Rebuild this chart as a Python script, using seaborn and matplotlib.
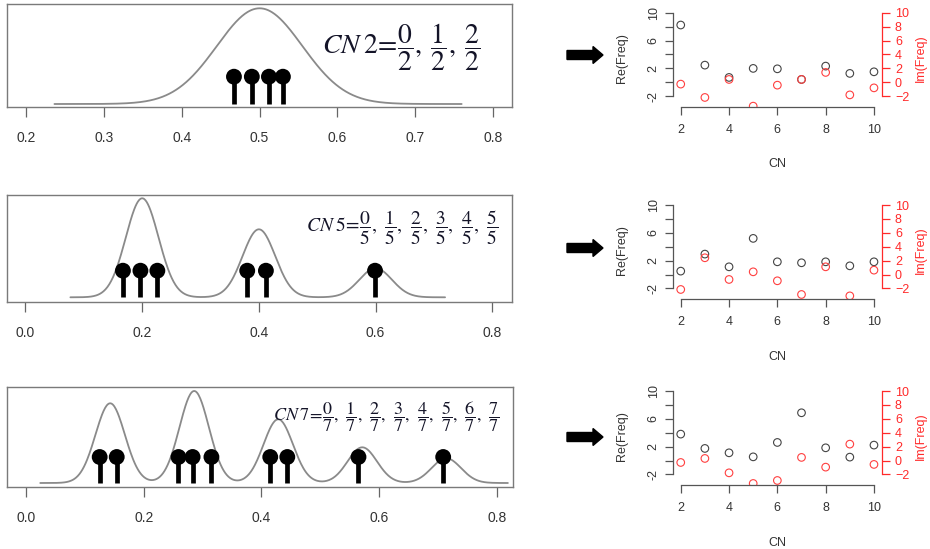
import numpy as np
import matplotlib
matplotlib.use("Agg")
import matplotlib.pyplot as plt
from matplotlib.patches import FancyArrow
import seaborn as sns

# ---------------- data ----------------
cn = [2, 3, 4, 5, 6, 7, 8, 9, 10]

# lollipop (observed allele fraction) positions
lolli_cn2 = [0.467, 0.490, 0.512, 0.530]
lolli_cn5 = [0.167, 0.197, 0.226, 0.380, 0.412, 0.599]
lolli_cn7 = [0.125, 0.154, 0.259, 0.283, 0.315, 0.415, 0.444, 0.565, 0.709]

# density peaks: centres and relative heights
peaks_cn2 = [0.5]
heights_cn2 = [95.7]
peaks_cn5 = [0.2, 0.4, 0.6]
heights_cn5 = [99.0, 68.0, 29.0]
peaks_cn7 = [1 / 7, 2 / 7, 3 / 7, 4 / 7, 5 / 7]
heights_cn7 = [79.7, 92.0, 63.7, 35.7, 24.7]

# frequency spectra (real / imaginary part) per CN
re_cn2 = [8.23, 2.46, 0.69, 1.99, 1.93, 0.40, 2.32, 1.27, 1.50]
im_cn2 = [-0.27, -2.19, 0.40, -3.44, -0.42, 0.40, 1.41, -1.82, -0.81]
re_cn5 = [0.49, 2.94, 1.11, 5.20, 1.83, 1.69, 1.83, 1.25, 1.83]
im_cn5 = [-2.15, 2.41, -0.71, 0.39, -0.90, -2.87, 1.11, -3.07, 0.63]
re_cn7 = [3.80, 1.74, 1.11, 0.53, 2.60, 6.87, 1.83, 0.49, 2.22]
im_cn7 = [-0.28, 0.30, -1.77, -3.30, -2.87, 0.45, -0.95, 2.36, -0.56]

ticks_cn2 = [0.2, 0.3, 0.4, 0.5, 0.6, 0.7, 0.8]
ticks_wide = [0.0, 0.2, 0.4, 0.6, 0.8]
cn_ticks = [2, 4, 6, 8, 10]
re_ticks = [-2, 0, 2, 4, 6, 8, 10]
re_ticklabels = ["-2", "", "2", "", "6", "", "10"]
im_ticks = [-2, 0, 2, 4, 6, 8, 10]


def cn_label(n, gap):
    fr = (r",\hspace{%.2f}" % gap).join(r"\dfrac{%d}{%d}" % (k, n) for k in range(n + 1))
    return r"$\mathit{CN}\hspace{0.22}%d\!=\!%s$" % (n, fr)


label_cn2 = cn_label(2, 0.25)
label_cn5 = cn_label(5, 0.40)
label_cn7 = cn_label(7, 0.42)

# ---------------- style ----------------
sns.set_style("white")
plt.rcParams["font.family"] = ["Liberation Sans", "DejaVu Sans"]
plt.rcParams["mathtext.fontset"] = "stix"

W, H = 930, 549
fig = plt.figure(figsize=(W / 100, H / 100), dpi=100)


def px_axes(x0, y0, x1, y1):
    return fig.add_axes([x0 / W, 1 - y1 / H, (x1 - x0) / W, (y1 - y0) / H])


def draw_left(box, xlim, ylim, xticks, peaks, heights, sd, span, lolli, head_y,
              label, text_xy, text_size):
    ax = px_axes(*box)
    xs = np.linspace(span[0], span[1], 600)
    dens = np.zeros_like(xs)
    for c, h in zip(peaks, heights):
        dens += h * np.exp(-0.5 * ((xs - c) / sd) ** 2)
    sns.lineplot(x=xs, y=dens, ax=ax, color="#8a8a8a", lw=1.3)
    ax.vlines(lolli, 0, head_y, color="black", lw=3.4, zorder=3)
    sns.scatterplot(x=lolli, y=[head_y] * len(lolli), ax=ax, s=130,
                    color="black", edgecolor="none", zorder=4)
    ax.set_xlim(*xlim)
    ax.set_ylim(*ylim)
    ax.set_xticks(xticks)
    ax.set_xticklabels([f"{t:.1f}" for t in xticks])
    ax.set_yticks([])
    for s in ax.spines.values():
        s.set_visible(True)
        s.set_color("#7a7a7a")
        s.set_linewidth(1.0)
    ax.tick_params(axis="x", direction="out", length=7.5, width=0.9,
                   color="#666666", labelsize=10, labelcolor="#333333", pad=10,
                   bottom=True)
    ax.set_xlabel("")
    ax.set_ylabel("")
    fig.text(text_xy[0] / W, 1 - text_xy[1] / H, label, ha="right", va="center",
             fontsize=text_size, color="#141428")
    return ax


def draw_right(y_top, y_bot, re_vals, im_vals):
    ax = px_axes(673, y_top, 881.7, y_bot)
    sns.scatterplot(x=cn, y=re_vals, ax=ax, s=30, color="#444444", zorder=3)
    c = ax.collections[-1]
    c.set_facecolor("none")
    c.set_edgecolor("#444444")
    c.set_linewidth(0.8)
    ax.set_xlim(1.68, 10.32)
    ax.set_ylim(-3.52, 10.52)
    ax.set_xticks(cn_ticks)
    ax.set_yticks(re_ticks)
    ax.set_yticklabels(re_ticklabels)
    for side in ["top", "right"]:
        ax.spines[side].set_visible(False)
    for side in ["left", "bottom"]:
        ax.spines[side].set_visible(True)
        ax.spines[side].set_color("#555555")
        ax.spines[side].set_linewidth(0.9)
    ax.spines["left"].set_bounds(-2, 10)
    ax.spines["bottom"].set_bounds(2, 10)
    ax.tick_params(axis="both", direction="out", length=5.5, width=0.9,
                   color="#555555", labelsize=9, labelcolor="#333333",
                   left=True, bottom=True)
    ax.tick_params(axis="y", labelrotation=90, pad=4)
    for t in ax.get_yticklabels():
        t.set_va("center")
    ax.tick_params(axis="x", pad=7)
    ax.set_xlabel("CN", fontsize=9, color="#333333", labelpad=16)
    ax.set_ylabel("Re(Freq)", fontsize=9, color="#333333", labelpad=14)

    ax2 = ax.twinx()
    sns.scatterplot(x=cn, y=im_vals, ax=ax2, s=30, color="#ff4040", zorder=3)
    c2 = ax2.collections[-1]
    c2.set_facecolor("none")
    c2.set_edgecolor("#ff4040")
    c2.set_linewidth(0.8)
    ax2.set_ylim(-3.52, 10.52)
    ax2.set_yticks(im_ticks)
    for side in ["top", "left", "bottom"]:
        ax2.spines[side].set_visible(False)
    ax2.spines["right"].set_visible(True)
    ax2.spines["right"].set_color("#ff2a2a")
    ax2.spines["right"].set_linewidth(0.9)
    ax2.spines["right"].set_bounds(-2, 10)
    ax2.tick_params(axis="y", direction="out", length=5.5, width=0.9,
                    color="#ff2a2a", labelsize=9, labelcolor="#ff2a2a",
                    right=True, pad=4)
    ax2.set_ylabel("Im(Freq)", fontsize=9, color="#ff2a2a", labelpad=4)
    ax2.set_xlabel("")
    return ax


def arrow(yc):
    a = FancyArrow(567 / W, 1 - yc / H, 36 / W, 0, width=9 / H,
                   head_width=17 / H, head_length=10 / W,
                   length_includes_head=True, color="black",
                   transform=fig.transFigure)
    fig.add_artist(a)


# panel CN2
draw_left((6.5, 4, 512, 107), (0.1743, 0.8248), (-3, 100), ticks_cn2,
          peaks_cn2, heights_cn2, 0.055, (0.236, 0.760), lolli_cn2, 27.3,
          label_cn2, (480, 47), 20)
# panel CN5
draw_left((6.5, 195, 512, 301.7), (-0.0325, 0.8337), (-4.4, 102.3), ticks_wide,
          peaks_cn5, heights_cn5, 0.028, (0.077, 0.719), lolli_cn5, 26.6,
          label_cn5, (498, 228), 14)
# panel CN7
draw_left((6.5, 386.7, 513, 486.7), (-0.0334, 0.8277), (-3.7, 96.3), ticks_wide,
          peaks_cn7, heights_cn7, 0.025, (0.024, 0.819), lolli_cn7, 26.0,
          label_cn7, (500, 417), 13)

draw_right(9.1, 106.7, re_cn2, im_cn2)
draw_right(201.4, 299, re_cn5, im_cn5)
draw_right(387.4, 485, re_cn7, im_cn7)

arrow(55)
arrow(248)
arrow(437)

fig.savefig("out.png", dpi=100, facecolor="white")
